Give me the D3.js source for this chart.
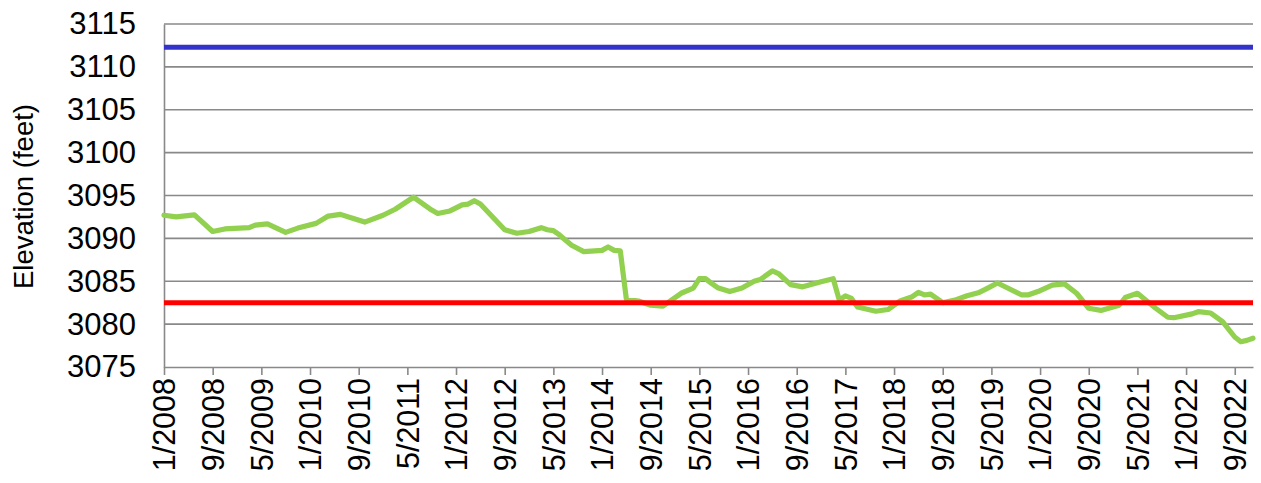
<!DOCTYPE html>
<html>
<head>
<meta charset="utf-8">
<script src="https://cdn.jsdelivr.net/npm/d3@7"></script>
<style>
  html, body { margin: 0; padding: 0; background: #fff; }
  svg { display: block; }
  text { font-family: "Liberation Sans", Arial, sans-serif; fill: #000; }
</style>
</head>
<body>
<svg id="chart" width="1261" height="483"></svg>
<script>
// ---- data ----
const months = [
  "2008-01","2008-03","2008-06","2008-09","2008-11","2009-03","2009-04","2009-06","2009-09","2009-11",
  "2010-02","2010-04","2010-06","2010-08","2010-10","2011-01","2011-03","2011-06","2011-09","2011-10",
  "2011-12","2012-02","2012-03","2012-04","2012-05","2012-09","2012-11","2013-01","2013-03","2013-04",
  "2013-05","2013-06","2013-08","2013-10","2014-01","2014-02","2014-03","2014-04","2014-05","2014-07",
  "2014-09","2014-11","2015-02","2015-04","2015-05","2015-06","2015-07","2015-08","2015-10","2015-12",
  "2016-02","2016-03","2016-05","2016-06","2016-08","2016-10","2017-01","2017-03","2017-04","2017-05",
  "2017-06","2017-07","2017-10","2017-12","2018-02","2018-04","2018-05","2018-06","2018-07","2018-09",
  "2018-11","2019-01","2019-03","2019-04","2019-06","2019-07","2019-10","2019-11","2020-01","2020-03",
  "2020-05","2020-07","2020-09","2020-11","2021-02","2021-03","2021-05","2021-08","2021-10","2021-11",
  "2022-02","2022-03","2022-05","2022-07","2022-09","2022-10","2022-11","2022-12"
];
const elevation = [
  3092.7,3092.5,3092.75,3090.8,3091.1,3091.25,3091.55,3091.7,3090.7,3091.2,
  3091.75,3092.6,3092.8,3092.35,3091.9,3092.7,3093.4,3094.8,3093.3,3092.9,
  3093.2,3093.9,3094.0,3094.4,3094.0,3091.0,3090.6,3090.8,3091.25,3091.0,
  3090.9,3090.4,3089.2,3088.45,3088.6,3089.0,3088.6,3088.55,3082.9,3082.7,
  3082.2,3082.1,3083.6,3084.2,3085.3,3085.3,3084.75,3084.25,3083.8,3084.2,
  3085.0,3085.2,3086.2,3085.9,3084.6,3084.35,3084.95,3085.3,3082.8,3083.3,
  3083.0,3082.0,3081.5,3081.7,3082.7,3083.2,3083.7,3083.4,3083.5,3082.5,
  3082.8,3083.3,3083.7,3084.05,3084.8,3084.45,3083.4,3083.4,3083.9,3084.55,
  3084.7,3083.6,3081.85,3081.6,3082.2,3083.1,3083.6,3081.85,3080.8,3080.75,
  3081.2,3081.45,3081.3,3080.3,3078.5,3077.95,3078.1,3078.35
];
const redLevel = 3082.5;
const blueLevel = 3112.3;
const yTicks = [3075, 3080, 3085, 3090, 3095, 3100, 3105, 3110, 3115];
const xTickLabels = ["1/2008","9/2008","5/2009","1/2010","9/2010","5/2011","1/2012","9/2012",
  "5/2013","1/2014","9/2014","5/2015","1/2016","9/2016","5/2017","1/2018","9/2018","5/2019",
  "1/2020","9/2020","5/2021","1/2022","9/2022"];
const startMonth = "2008-01";
const endMonth = "2022-12";
const yTitle = "Elevation (feet)";

// ---- helpers ----
function monthIndex(s) {
  const [y, m] = s.split("-").map(Number);
  const [y0, m0] = startMonth.split("-").map(Number);
  return (y - y0) * 12 + (m - m0);
}
function labelIndex(s) {
  const [m, y] = s.split("/").map(Number);
  return monthIndex(y + "-" + String(m).padStart(2, "0"));
}

// ---- layout ----
const L = 164, R = 1253, T = 24, B = 367;
const svg = d3.select("#chart");

const x = d3.scaleLinear().domain([0, monthIndex(endMonth)]).range([L, R]);
const y = d3.scaleLinear().domain([3075, 3115]).range([B, T]);

const gridColor = "#898989";

// gridlines
svg.append("g")
  .selectAll("line")
  .data(yTicks.filter(d => d !== 3075))
  .join("line")
  .attr("x1", L).attr("x2", R)
  .attr("y1", d => y(d)).attr("y2", d => y(d))
  .attr("stroke", gridColor).attr("stroke-width", 1.6);

// y axis
const yAxis = d3.axisLeft(y).tickValues(yTicks).tickSize(0).tickPadding(28).tickFormat(d3.format("d"));
const gy = svg.append("g").attr("transform", `translate(${L},0)`).call(yAxis);
gy.select(".domain").attr("stroke", gridColor).attr("stroke-width", 1.6);
gy.selectAll("text").attr("font-size", 31).attr("font-family", "Liberation Sans, Arial, sans-serif").attr("fill", "#000");

// x axis
const xAxis = d3.axisBottom(x)
  .tickValues(xTickLabels.map(labelIndex))
  .tickSize(8)
  .tickSizeOuter(0)
  .tickFormat((d, i) => xTickLabels[i]);
const gx = svg.append("g").attr("transform", `translate(0,${B})`).call(xAxis);
gx.select(".domain").attr("stroke", gridColor).attr("stroke-width", 1.6);
gx.selectAll(".tick line").attr("stroke", gridColor).attr("stroke-width", 1.6);
gx.selectAll("text")
  .attr("font-size", 30.5)
  .attr("font-family", "Liberation Sans, Arial, sans-serif")
  .attr("fill", "#000")
  .attr("text-anchor", "end")
  .attr("transform", "rotate(-90)")
  .attr("x", -11)
  .attr("y", 0)
  .attr("dy", "0.35em");

// y title
svg.append("text")
  .attr("transform", `translate(33,${(T + B) / 2 + 1}) rotate(-90)`)
  .attr("text-anchor", "middle")
  .attr("font-size", 27.5)
  .text(yTitle);

// green series
const pts = months.map((m, i) => [monthIndex(m), elevation[i]]);
const line = d3.line().x(d => x(d[0])).y(d => y(d[1]));
svg.append("path")
  .datum(pts)
  .attr("d", line)
  .attr("fill", "none")
  .attr("stroke", "#92D050")
  .attr("stroke-width", 5.2)
  .attr("stroke-linejoin", "round")
  .attr("stroke-linecap", "round");

// reference levels
svg.append("line")
  .attr("x1", L).attr("x2", R)
  .attr("y1", y(redLevel)).attr("y2", y(redLevel))
  .attr("stroke", "#FF0000").attr("stroke-width", 5);
svg.append("line")
  .attr("x1", L).attr("x2", R)
  .attr("y1", y(blueLevel)).attr("y2", y(blueLevel))
  .attr("stroke", "#3333CC").attr("stroke-width", 5);
</script>
</body>
</html>
